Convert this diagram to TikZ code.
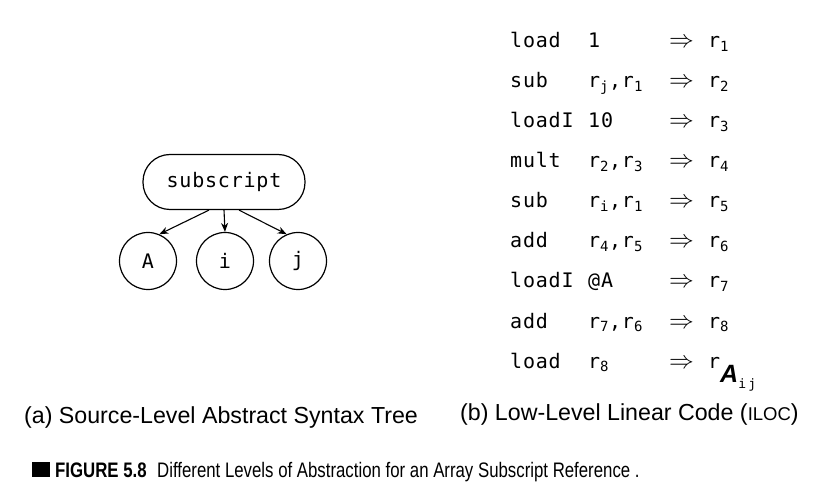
\documentclass[tikz,border=0pt]{standalone}
\usepackage{fontspec}
\setmainfont{Liberation Sans}
\newfontfamily\codefont{DejaVu Sans Mono}[LetterSpace=4]
\newfontfamily\capfont{Liberation Sans}[FakeStretch=0.8]
\usetikzlibrary{arrows.meta}

\newcommand{\codesize}{\fontsize{20bp}{24bp}\selectfont}
\newcommand{\rg}[1]{r\textsubscript{#1}}
\newcommand{\rA}{r\raisebox{-14bp}{\rmfamily\fontsize{25bp}{25bp}\selectfont\bfseries\itshape A}\raisebox{-20bp}{\fontsize{13bp}{13bp}\selectfont i\,j}}

\tikzset{
    treebox/.style={draw, rounded corners=27bp, minimum width=162bp, minimum height=55bp, font=\codefont\codesize, line width=1.2bp},
    leaf/.style={draw, circle, minimum size=57bp, inner sep=0pt, font=\codefont\codesize, line width=1.2bp},
    branch/.style={-{Stealth[length=9bp, width=7bp]}, line width=1.1bp},
    code/.style={font=\codefont\codesize, inner sep=0pt, anchor=base west},
    label/.style={font=\fontsize{23.2bp}{26bp}\selectfont, inner sep=0pt, anchor=base west}
}

\begin{document}
\begin{tikzpicture}[x=1bp, y=-1bp]

    \useasboundingbox (0,0) rectangle (815,493);

    % Tree
    \node[treebox] (sub) at (224,182) {subscript};
    \node[leaf] (A) at (148,261) {A};
    \node[leaf] (i) at (225,261) {i};
    \node[leaf] (j) at (298,261) {j};
    \draw[branch] ([xshift=-15bp]sub.south) -- (A.67);
    \draw[branch] (sub.south) -- (i.north);
    \draw[branch] ([xshift=15bp]sub.south) -- (j.113);

    % Code
    \foreach \op/\arg/\res [count=\k from 0] in {load/1/\rg{1}, sub/{\rg{j},\rg{1}}/\rg{2}, loadI/10/\rg{3}, mult/{\rg{2},\rg{3}}/\rg{4}, sub/{\rg{i},\rg{1}}/\rg{5}, add/{\rg{4},\rg{5}}/\rg{6}, loadI/@A/\rg{7}, add/{\rg{7},\rg{6}}/\rg{8}, load/\rg{8}/\rA} {
        \node[code] (op\k) at (510,{48+40*\k}) {\op};
        \node[code] (arg\k) at (588,{48+40*\k}) {\arg};
        \node[code, font=\fontsize{23bp}{23bp}\selectfont] (to\k) at (669,{48+40*\k}) {$\Rightarrow$};
        \node[code] (res\k) at (708,{48+40*\k}) {\res};
    }

    % Captions
    \node[label] (capa) at (24,423) {(a) Source-Level Abstract Syntax Tree};
    \node[label] (capb) at (460,420) {(b) Low-Level Linear Code ({\fontsize{18.5bp}{20bp}\selectfont ILOC})};

    % Figure caption
    \fill (32,462) rectangle (50,477);
    \node[inner sep=0pt, anchor=base west, font=\capfont\fontsize{21bp}{24bp}\selectfont\bfseries] (fig) at (55,477) {FIGURE 5.8};
    \node[inner sep=0pt, anchor=base west, font=\capfont\fontsize{21bp}{24bp}\selectfont] (figtext) at (157,477) {Different Levels of Abstraction for an Array Subscript Reference .};

\end{tikzpicture}
\end{document}
